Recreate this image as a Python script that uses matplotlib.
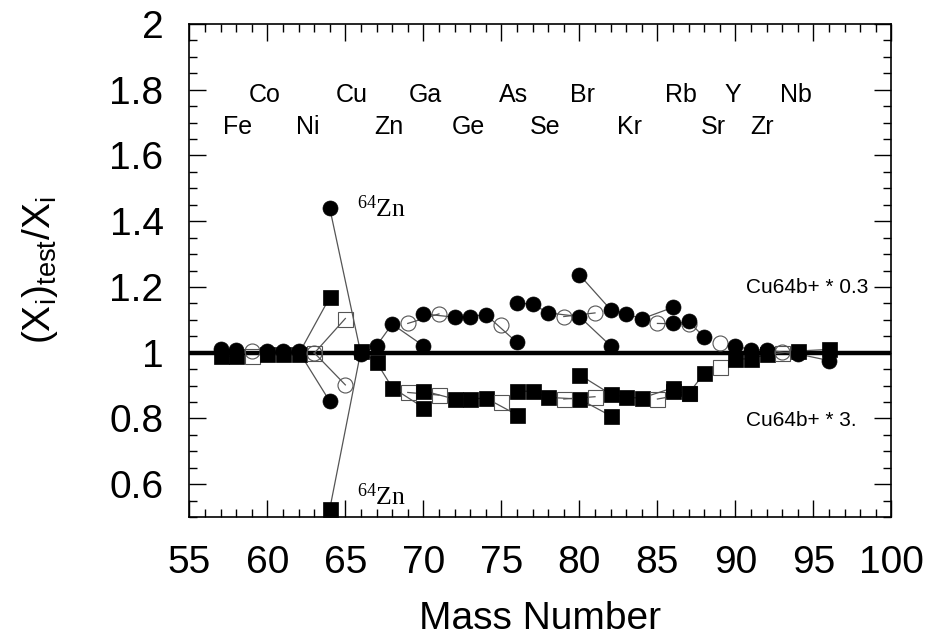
import numpy as np
import matplotlib
matplotlib.use("Agg")
import matplotlib.pyplot as plt
from matplotlib.ticker import MultipleLocator

plt.rcParams['font.family'] = ['Liberation Sans', 'DejaVu Sans']
plt.rcParams['mathtext.fontset'] = 'custom'
plt.rcParams['mathtext.rm'] = 'Liberation Serif'
plt.rcParams['mathtext.sf'] = 'Liberation Sans'

# isotopes of each element, with the two test runs
# circles: Cu64b+ * 0.3, squares: Cu64b+ * 3.
elements = ['Fe', 'Co', 'Ni', 'Cu', 'Zn', 'Ga', 'Ge', 'As', 'Se', 'Br',
            'Kr', 'Rb', 'Sr', 'Y', 'Zr', 'Nb']
mass = [
    [57, 58],
    [59],
    [60, 61, 62, 64],
    [63, 65],
    [64, 66, 67, 68, 70],
    [69, 71],
    [70, 72, 73, 74, 76],
    [75],
    [76, 77, 78, 80, 82],
    [79, 81],
    [80, 82, 83, 84, 86],
    [85, 87],
    [86, 87, 88],
    [89],
    [90, 91, 92, 94, 96],
    [93],
]
ratio_low = [
    [1.012, 1.008],
    [1.006],
    [1.005, 1.005, 1.005, 0.852],
    [1.000, 0.902],
    [1.440, 0.996, 1.021, 1.087, 1.021],
    [1.089, 1.118],
    [1.118, 1.108, 1.110, 1.116, 1.031],
    [1.085],
    [1.151, 1.148, 1.121, 1.110, 1.021],
    [1.110, 1.121],
    [1.237, 1.131, 1.118, 1.103, 1.138],
    [1.089, 1.087],
    [1.089, 1.095, 1.047],
    [1.028],
    [1.021, 1.008, 1.008, 0.996, 0.976],
    [1.001],
]
ratio_high = [
    [0.990, 0.990],
    [0.990],
    [0.995, 0.995, 0.995, 1.168],
    [0.998, 1.104],
    [0.524, 1.006, 0.971, 0.894, 0.833],
    [0.879, 0.871],
    [0.884, 0.859, 0.859, 0.862, 0.811],
    [0.849],
    [0.884, 0.882, 0.864, 0.859, 0.808],
    [0.859, 0.866],
    [0.933, 0.874, 0.864, 0.862, 0.893],
    [0.859, 0.876],
    [0.882, 0.876, 0.937],
    [0.955],
    [0.981, 0.981, 0.995, 1.005, 1.010],
    [1.000],
]
# element label positions (lower row / upper row alternate)
label_x = [58.1, 59.8, 62.6, 65.4, 67.8, 70.1, 72.9, 75.8, 77.8, 80.2,
           83.2, 86.5, 88.6, 89.8, 91.7, 93.9]
label_y = [1.664, 1.764]

fig = plt.figure(figsize=(9.33, 6.39), dpi=100)
ax = fig.add_axes([0.2029, 0.1909, 0.7526, 0.7715])

ax.axhline(1.0, color='black', lw=3.2, zorder=1)

ms = 10.8
for k in range(len(elements)):
    filled = (k % 2 == 0)
    face = 'black' if filled else 'none'
    edge = 'black' if filled else '#555555'
    mew = 0.5 if filled else 0.8
    for vals, mk in ((ratio_low[k], 'o'), (ratio_high[k], 's')):
        ax.plot(mass[k], vals, '-', color='#555555', lw=0.9, zorder=2)
        ax.plot(mass[k], vals, mk, ms=ms, mfc=face, mec=edge, mew=mew,
                zorder=3)
    ax.text(label_x[k], label_y[k % 2], elements[k],
            fontsize=18, ha='center', va='baseline')

ax.text(65.75, 1.413, r'$\mathrm{^{64}Zn}$', fontsize=18.5, ha='left', va='baseline')
ax.text(65.75, 0.537, r'$\mathrm{^{64}Zn}$', fontsize=18.5, ha='left', va='baseline')
ax.text(98.53, 1.181, 'Cu64b+ * 0.3', fontsize=15, ha='right', va='baseline')
ax.text(97.78, 0.778, 'Cu64b+ * 3.', fontsize=15, ha='right', va='baseline')

ax.set_xlim(55, 100)
ax.set_ylim(0.5, 2.0)
ax.xaxis.set_major_locator(MultipleLocator(5))
ax.xaxis.set_minor_locator(MultipleLocator(1))
ax.yaxis.set_minor_locator(MultipleLocator(0.05))
ax.set_yticks([0.6, 0.8, 1.0, 1.2, 1.4, 1.6, 1.8, 2.0])
ax.set_yticklabels(['0.6', '0.8', '1', '1.2', '1.4', '1.6', '1.8', '2'])
ax.tick_params(which='both', direction='in', top=True, right=True,
               labelsize=28, width=1)
ax.tick_params(which='major', length=12)
ax.tick_params(which='minor', length=6)
ax.tick_params(axis='x', pad=20)
ax.tick_params(axis='y', pad=18.5)
for sp in ax.spines.values():
    sp.set_linewidth(1.2)

ax.set_xlabel('Mass Number', fontsize=28)
ax.xaxis.set_label_coords(0.5, -0.1705)
ax.set_ylabel(r'(X$_{\mathsf{i}}$)$_{\mathsf{test}}$/X$_{\mathsf{i}}$',
              fontsize=28)
ax.yaxis.set_label_coords(-0.184, 0.5)

fig.savefig('out.png', dpi=100)
